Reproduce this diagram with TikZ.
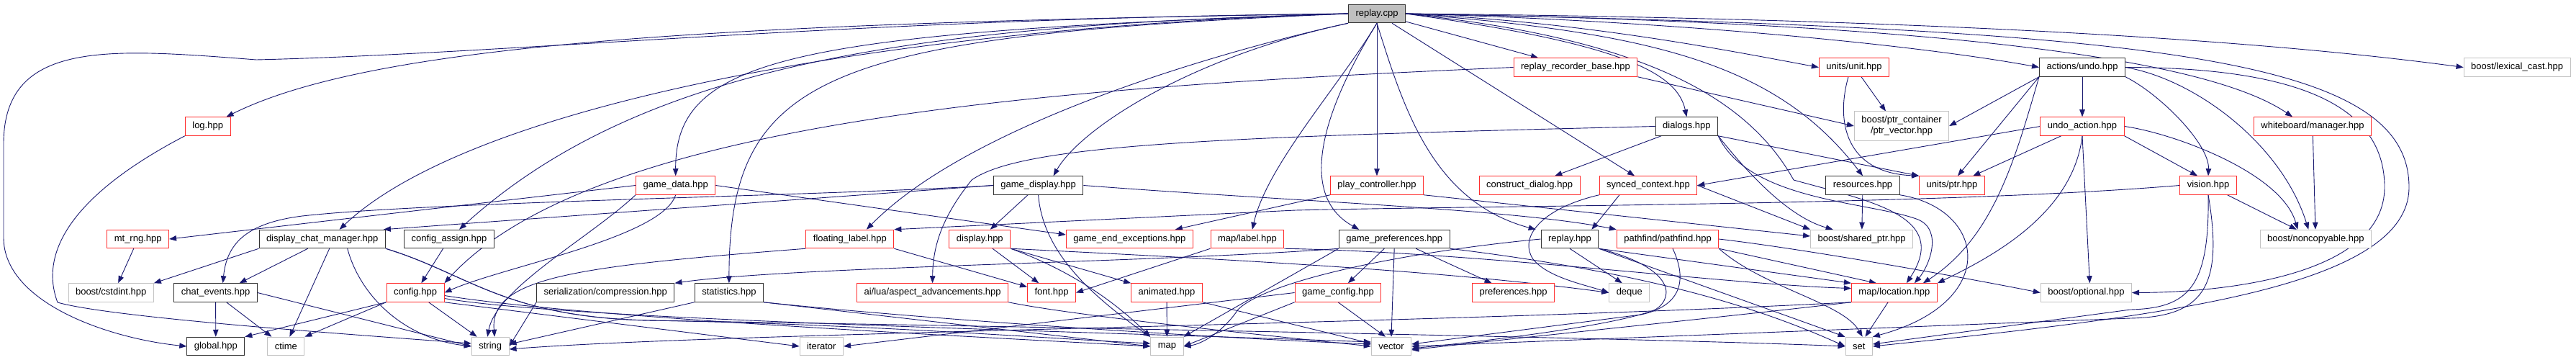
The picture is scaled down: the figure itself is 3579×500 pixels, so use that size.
\documentclass[tikz,border=0pt]{standalone}
\usepackage{fontspec}
\setmainfont{Liberation Sans}
\usetikzlibrary{arrows.meta}
\definecolor{edgeblue}{RGB}{25,25,112}
\definecolor{nodeblack}{RGB}{50,50,50}
\definecolor{nodered}{RGB}{255,45,45}
\definecolor{nodegray}{RGB}{195,195,195}
\definecolor{rootfill}{RGB}{191,191,191}
\pgfdeclarelayer{bg}
\pgfsetlayers{bg,main}
\tikzset{
  box/.style={draw, line width=1pt, fill=white, minimum height=25.5pt, inner xsep=10pt, inner ysep=2pt, font=\fontsize{13}{15}\selectfont},
  blk/.style={box, draw=nodeblack},
  redb/.style={box, draw=nodered},
  gry/.style={box, draw=nodegray},
  root/.style={box, draw=nodeblack, fill=rootfill},
  dep/.style={draw=edgeblue, line width=0.9pt, -{Triangle[length=10pt,width=7.5pt]}},
}
\begin{document}
\begin{tikzpicture}[x=1pt,y=-1pt]
\useasboundingbox (0,0) rectangle (3579,500);
% row 0
\node[root] (replaycpp) at (1913,19) {replay.cpp};
% row 1
\node[redb] (rrb) at (2189,93.5) {replay\_recorder\_base.hpp};
\node[redb] (unit) at (2576,93.5) {units/unit.hpp};
\node[blk] (undo) at (2893,93.5) {actions/undo.hpp};
\node[gry] (lexcast) at (3497,93.5) {boost/lexical\_cast.hpp};
% row 2
\node[redb] (log) at (288.7,175.5) {log.hpp};
\node[blk] (dialogs) at (2343.4,175.5) {dialogs.hpp};
\node[gry, minimum height=40pt, align=center] (ptrvec) at (2642,175) {boost/ptr\_container\\/ptr\_vector.hpp};
\node[redb] (undoact) at (2893,175.5) {undo\_action.hpp};
\node[redb] (wbman) at (3213,175.5) {whiteboard/manager.hpp};
% row 3
\node[redb] (gamedata) at (938.7,257.5) {game\_data.hpp};
\node[blk] (gamedisp) at (1442.6,257.5) {game\_display.hpp};
\node[redb] (playctrl) at (1913,257.5) {play\_controller.hpp};
\node[redb] (constdlg) at (2125,257.5) {construct\_dialog.hpp};
\node[redb] (synced) at (2290,257.5) {synced\_context.hpp};
\node[blk] (resources) at (2588,257.5) {resources.hpp};
\node[redb] (uptr) at (2712,257.5) {units/ptr.hpp};
\node[redb] (vision) at (3068,257.5) {vision.hpp};
% row 4
\node[redb] (mtrng) at (191.7,332) {mt\_rng.hpp};
\node[blk] (dcm) at (447.7,332) {display\_chat\_manager.hpp};
\node[blk] (cfgassign) at (624,332) {config\_assign.hpp};
\node[redb] (floatlabel) at (1180.9,332) {floating\_label.hpp};
\node[redb] (display) at (1361.3,332) {display.hpp};
\node[redb] (gameend) at (1569.3,332) {game\_end\_exceptions.hpp};
\node[redb] (maplabel) at (1732.9,332) {map/label.hpp};
\node[blk] (gamepref) at (1937.2,332) {game\_preferences.hpp};
\node[blk] (replayhpp) at (2181,332) {replay.hpp};
\node[redb] (pathfind) at (2317,332) {pathfind/pathfind.hpp};
\node[gry] (sharedptr) at (2586.6,332) {boost/shared\_ptr.hpp};
\node[gry] (noncopy) at (3217.3,332) {boost/noncopyable.hpp};
% row 5
\node[gry] (cstdint) at (154.2,406.5) {boost/cstdint.hpp};
\node[blk] (chatev) at (299.6,406.5) {chat\_events.hpp};
\node[redb] (config) at (577,406.5) {config.hpp};
\node[blk] (compress) at (841.3,406.5) {serialization/compression.hpp};
\node[blk] (stats) at (1012.9,406.5) {statistics.hpp};
\node[redb] (aspect) at (1295.6,406.5) {ai/lua/aspect\_advancements.hpp};
\node[redb] (font) at (1461,406.5) {font.hpp};
\node[redb] (animated) at (1621,406.5) {animated.hpp};
\node[redb] (gamecfg) at (1859,406.5) {game\_config.hpp};
\node[redb] (prefs) at (2102.5,406.5) {preferences.hpp};
\node[gry] (deque) at (2263.8,406.5) {deque};
\node[redb] (location) at (2631.9,406.5) {map/location.hpp};
\node[gry] (optional) at (2898.4,406.5) {boost/optional.hpp};
% row 6
\node[blk] (global) at (299.8,481) {global.hpp};
\node[gry] (ctime) at (397.4,481) {ctime};
\node[gry] (string) at (681.2,481) {string};
\node[gry] (iterator) at (1141.3,481) {iterator};
\node[gry] (map) at (1621.4,481) {map};
\node[gry] (vector) at (1933,481) {vector};
\node[gry] (set) at (2582.7,481) {set};

\begin{pgfonlayer}{bg}
% ---- from replay.cpp
\draw[dep] (replaycpp.west) .. controls (1200,25) and (700,75) .. (356,83) .. controls (150,67) and (5,55) .. (5,200) -- (5,330) .. controls (5,420) and (150,470) .. (global.west);
\draw[dep] (replaycpp.west) .. controls (1000,32) and (520,60) .. ([xshift=-6pt]log.north east);
\draw[dep] (replaycpp.west) .. controls (1200,40) and (650,150) .. ([xshift=24pt]dcm.north);
\draw[dep] (replaycpp.west) .. controls (1300,35) and (900,80) .. ([xshift=14pt]cfgassign.north);
\draw[dep] (replaycpp.west) .. controls (1100,45) and (938,80) .. (gamedata.north);
\draw[dep] (replaycpp.west) .. controls (1150,50) and (1013,100) .. (stats.north);
\draw[dep] (replaycpp.south west) .. controls (1700,70) and (1350,170) .. ([xshift=23pt]floatlabel.north);
\draw[dep] (replaycpp.south west) .. controls (1650,80) and (1500,180) .. ([xshift=21pt]gamedisp.north);
\draw[dep] (replaycpp.south) .. controls (1860,120) and (1760,230) .. ([xshift=7pt]maplabel.north);
\draw[dep] (replaycpp.south) .. controls (1840,150) and (1800,270) .. ([xshift=-49pt]gamepref.north);
\draw[dep] (replaycpp) -- (playctrl);
\draw[dep] (replaycpp.south) .. controls (1950,150) and (1990,280) .. ([xshift=-7pt]replayhpp.north west);
\draw[dep] (replaycpp) -- ([xshift=-19pt]synced.north);
\draw[dep] (replaycpp) -- ([xshift=-52pt]rrb.north);
\draw[dep] (replaycpp.east) .. controls (2250,60) and (2330,100) .. (dialogs.north);
\draw[dep] (replaycpp.east) .. controls (2300,45) and (2470,90) .. (resources.north);
\draw[dep] (replaycpp.east) .. controls (2200,30) and (2400,70) .. (unit.west);
\draw[dep] (replaycpp.east) .. controls (2300,28) and (2650,60) .. (undo.west);
\draw[dep] (replaycpp.east) .. controls (2600,25) and (3100,50) .. (lexcast.west);
\draw[dep] (replaycpp.east) .. controls (2600,30) and (3050,70) .. ([xshift=-28pt]wbman.north);
\draw[dep] (replaycpp.east) .. controls (3000,40) and (3347,80) .. (3347,260) .. controls (3347,400) and (3000,440) .. (set.east);
\draw[dep] (replaycpp.east) .. controls (2250,50) and (2420,120) .. (2492,250) .. controls (2600,280) and (2710,300) .. ([xshift=17pt]location.north);
% ---- actions/undo.hpp
\draw[dep] (undo.east) .. controls (3200,94) and (3313,150) .. (3313,260) .. controls (3313,380) and (3100,406) .. (optional.east);
\draw[dep] (undo) -- (undoact);
\draw[dep] (undo.south west) -- (ptrvec.east);
\draw[dep] (undo.south west) -- ([xshift=8pt]uptr.north);
\draw[dep] (undo.south west) .. controls (2800,220) and (2770,330) .. ([xshift=40pt]location.north);
\draw[dep] (undo.south east) .. controls (3000,130) and (3070,200) .. (vision.north);
\draw[dep] (undo.east) .. controls (3050,110) and (3170,200) .. ([xshift=-10pt]noncopy.north);
% ---- undo_action.hpp
\draw[dep] (undoact.west) -- (synced.east);
\draw[dep] (undoact) -- (uptr);
\draw[dep] (undoact.south) -- ([xshift=5pt]optional.north);
\draw[dep] (undoact.south east) -- ([xshift=-15pt]vision.north);
\draw[dep] (undoact.east) .. controls (3020,185) and (3170,240) .. ([xshift=-25pt]noncopy.north);
\draw[dep] (undoact.south) .. controls (2880,300) and (2760,360) .. (location.north east);
% ---- replay_recorder_base.hpp
\draw[dep] (rrb.south east) -- (ptrvec.west);
\draw[dep] (rrb.west) .. controls (1500,120) and (830,160) .. (config.north east);
% ---- units/unit.hpp
\draw[dep] ([xshift=10pt]unit.south) -- ([xshift=-22pt]ptrvec.north);
\draw[dep] ([xshift=-8pt]unit.south) .. controls (2550,170) and (2565,240) .. (uptr.north west);
% ---- dialogs.hpp
\draw[dep] (dialogs) -- (constdlg);
\draw[dep] (dialogs.south east) -- (uptr.north west);
\draw[dep] (dialogs.west) .. controls (1700,190) and (1420,200) .. (1350,250) .. controls (1310,300) and (1296,340) .. (aspect.north);
\draw[dep] (dialogs.south east) .. controls (2420,230) and (2480,300) .. ([xshift=-40pt]sharedptr.north);
\draw[dep] (dialogs.south east) .. controls (2430,280) and (2600,280) .. (2665,305) .. controls (2700,320) and (2680,370) .. ([xshift=28pt]location.north);
% ---- game_data.hpp
\draw[dep] (gamedata.west) -- (mtrng.east);
\draw[dep] (gamedata.south) .. controls (920,330) and (700,370) .. (config.east);
\draw[dep] (gamedata.east) -- ([yshift=6pt]gameend.west);
\draw[dep] (gamedata.south west) .. controls (820,330) and (690,400) .. ([xshift=-4pt]string.north);
% ---- game_display.hpp
\draw[dep] (gamedisp.west) .. controls (1150,272) and (600,280) .. (420,300) .. controls (340,310) and (315,340) .. ([xshift=10pt]chatev.north);
\draw[dep] (gamedisp.west) -- ([xshift=-3pt]dcm.north east);
\draw[dep] (gamedisp) -- (display);
\draw[dep] (gamedisp.south) .. controls (1448,340) and (1500,400) .. (map.north west);
\draw[dep] (gamedisp.east) .. controls (1800,280) and (2100,290) .. (pathfind.north west);
% ---- play_controller.hpp
\draw[dep] (playctrl.south west) -- ([xshift=-25pt]gameend.north east);
\draw[dep] (playctrl.south east) -- ([yshift=4pt]sharedptr.west);
% ---- synced_context.hpp
\draw[dep] ([xshift=-40pt]synced.south) -- ([xshift=-10pt]replayhpp.north east);
\draw[dep] (synced.south west) .. controls (2140,290) and (2110,330) .. (2130,360) .. controls (2150,385) and (2200,395) .. (deque.west);
\draw[dep] (synced.east) -- (sharedptr.north west);
% ---- resources.hpp
\draw[dep] (resources) -- (sharedptr);
\draw[dep] (resources.south east) .. controls (2760,290) and (2780,420) .. (set.north east);
% ---- vision.hpp
\draw[dep] (vision) -- (noncopy);
\draw[dep] (vision.west) .. controls (2700,285) and (2100,285) .. (1800,292) -- (floatlabel.north east);
\draw[dep] (vision.south) .. controls (3070,400) and (3040,428) .. (2960,430) -- ([yshift=3pt]set.east);
\draw[dep] (vision.south) .. controls (3090,400) and (3060,440) .. (2960,442) -- (vector.east);
% ---- whiteboard
\draw[dep] (wbman) -- (noncopy);
% ---- map/label.hpp
\draw[dep] (maplabel.south west) -- (font.east);
\draw[dep] (maplabel.south east) .. controls (2050,350) and (2400,395) .. ([yshift=6pt]location.west);
% ---- game_preferences.hpp
\draw[dep] (gamepref) -- (gamecfg);
\draw[dep] ([xshift=30pt]gamepref.south) -- ([xshift=-30pt]prefs.north);
\draw[dep] (gamepref.south) -- (vector.north);
\draw[dep] (gamepref.south west) -- (map.north east);
\draw[dep] (gamepref.south west) .. controls (1600,365) and (1100,370) .. (compress.north east);
\draw[dep] (gamepref.south east) .. controls (2300,380) and (2450,430) .. (set.west);
% ---- game_config.hpp
\draw[dep] (gamecfg.south west) -- (map.east);
\draw[dep] (gamecfg.south) -- ([xshift=-8pt]vector.north);
\draw[dep] (gamecfg.west) -- (iterator.east);
% ---- replay.hpp
\draw[dep] (replayhpp.south) -- ([xshift=-10pt]deque.north);
\draw[dep] (replayhpp.south east) -- (location.north west);
\draw[dep] (replayhpp.south east) -- (set.north west);
\draw[dep] (replayhpp.south east) .. controls (2320,370) and (2330,410) .. (2300,430) .. controls (2250,450) and (2100,470) .. ([yshift=-3pt]vector.east);
\draw[dep] (replayhpp.west) .. controls (1950,350) and (1760,390) .. (1720,430) .. controls (1700,460) and (1670,478) .. (map.east);
% ---- pathfind
\draw[dep] (pathfind.south east) -- ([xshift=-25pt]location.north);
\draw[dep] ([xshift=7pt]pathfind.south) .. controls (2345,390) and (2335,425) .. (2280,437) -- ([yshift=3pt]vector.east);
\draw[dep] (pathfind.south east) .. controls (2450,400) and (2560,420) .. ([xshift=5pt]set.north);
\draw[dep] (pathfind.east) .. controls (2500,345) and (2700,380) .. (optional.west);
% ---- animated, aspect, display, floating_label
\draw[dep] (animated) -- (map);
\draw[dep] (animated.south east) -- ([yshift=4pt]vector.west);
\draw[dep] (aspect.south east) .. controls (1500,440) and (1800,470) .. (vector.west);
\draw[dep] (display) -- (font);
\draw[dep] (display.south east) -- (animated.north west);
\draw[dep] (display.south east) .. controls (1500,380) and (1560,430) .. (map.north west);
\draw[dep] (display.south east) .. controls (1700,360) and (2000,375) .. (deque.west);
\draw[dep] (floatlabel.south east) -- ([yshift=8pt]font.west);
\draw[dep] (floatlabel.south west) .. controls (800,370) and (680,385) .. ([xshift=6pt]string.north);
% ---- display_chat_manager.hpp
\draw[dep] (dcm.south west) -- (cstdint.north east);
\draw[dep] ([xshift=-20pt]dcm.south) -- ([xshift=33pt]chatev.north);
\draw[dep] ([xshift=10pt]dcm.south) -- ([xshift=5pt]ctime.north);
\draw[dep] ([xshift=35pt]dcm.south) .. controls (500,410) and (560,470) .. (string.west);
\draw[dep] (dcm.south east) .. controls (650,380) and (700,440) .. (900,445) .. controls (1200,450) and (1450,470) .. ([yshift=4pt]map.west);
\draw[dep] (dcm.south east) .. controls (650,380) and (700,440) .. (900,445) .. controls (1500,455) and (2300,470) .. (set.west);
% ---- chat_events.hpp
\draw[dep] (chatev) -- (global);
\draw[dep] ([xshift=15pt]chatev.south) -- ([xshift=-20pt]ctime.north);
\draw[dep] (chatev.east) -- (string.west);
% ---- config.hpp
\draw[dep] (config.south west) -- (global.north east);
\draw[dep] (config.south west) -- (ctime.north east);
\draw[dep] (config) -- (string);
\draw[dep] (config.south east) -- (iterator.west);
\draw[dep] ([yshift=-4pt]config.east) .. controls (800,440) and (1300,465) .. (map.west);
\draw[dep] ([yshift=-8pt]config.east) .. controls (800,445) and (1500,460) .. ([yshift=6pt]vector.west);
\draw[dep] (cfgassign) -- (config);
% ---- compression, statistics
\draw[dep] (compress.south west) -- (string.east);
\draw[dep] (stats.south west) -- ([yshift=3pt]string.east);
\draw[dep] (stats.south east) -- (map.west);
\draw[dep] (stats.south east) .. controls (1300,445) and (1700,470) .. ([yshift=3pt]vector.west);
% ---- log, mt_rng, location
\draw[dep] (log.south west) .. controls (120,260) and (50,340) .. (80,420) .. controls (150,440) and (450,462) .. ([yshift=4pt]string.west);
\draw[dep] (mtrng) -- ([xshift=10pt]cstdint.north);
\draw[dep] (location) -- (set);
\draw[dep] (location.south west) .. controls (2400,440) and (2100,470) .. ([yshift=-5pt]vector.east);
\draw[dep] (location.south west) .. controls (2000,450) and (1000,462) .. ([yshift=-4pt]string.east);
\end{pgfonlayer}
\end{tikzpicture}
\end{document}
